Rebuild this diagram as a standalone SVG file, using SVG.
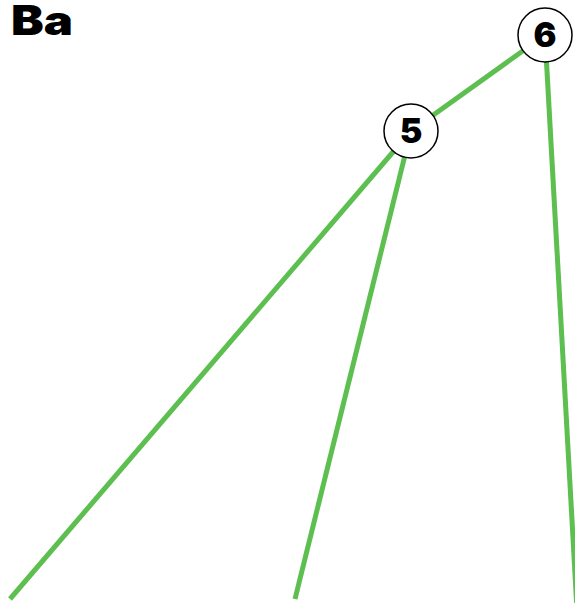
<svg xmlns="http://www.w3.org/2000/svg" width="575" height="603" viewBox="0 0 575 603">
  <style>
    .edge { stroke: #5cbf50; stroke-width: 5; fill: none; stroke-linecap: butt; }
    .node circle { fill: #ffffff; stroke: #000000; stroke-width: 1.5; }
    .node text { font-family: Inter, "Liberation Sans", sans-serif; font-weight: 900; font-size: 34px; text-anchor: middle; fill: #000000; }
    .title { font-family: Inter, "Liberation Sans", sans-serif; font-weight: 900; font-size: 41px; fill: #000000; }
  </style>
  <rect width="575" height="603" fill="#ffffff"/>
  <text class="title" x="11" y="35" textLength="62" lengthAdjust="spacingAndGlyphs">Ba</text>
  <g id="connectors">
    <line class="edge" x1="545" y1="35" x2="411" y2="131"/>
    <line class="edge" x1="411" y1="131" x2="10" y2="599"/>
    <line class="edge" x1="411" y1="131" x2="295" y2="599"/>
    <line class="edge" x1="545" y1="35" x2="577" y2="610"/>
  </g>
  <g id="node-5" class="node">
    <circle cx="411" cy="131" r="27"/>
    <text x="411" y="143">5</text>
  </g>
  <g id="node-6" class="node">
    <circle cx="545" cy="35" r="27"/>
    <text x="545" y="47">6</text>
  </g>
</svg>
